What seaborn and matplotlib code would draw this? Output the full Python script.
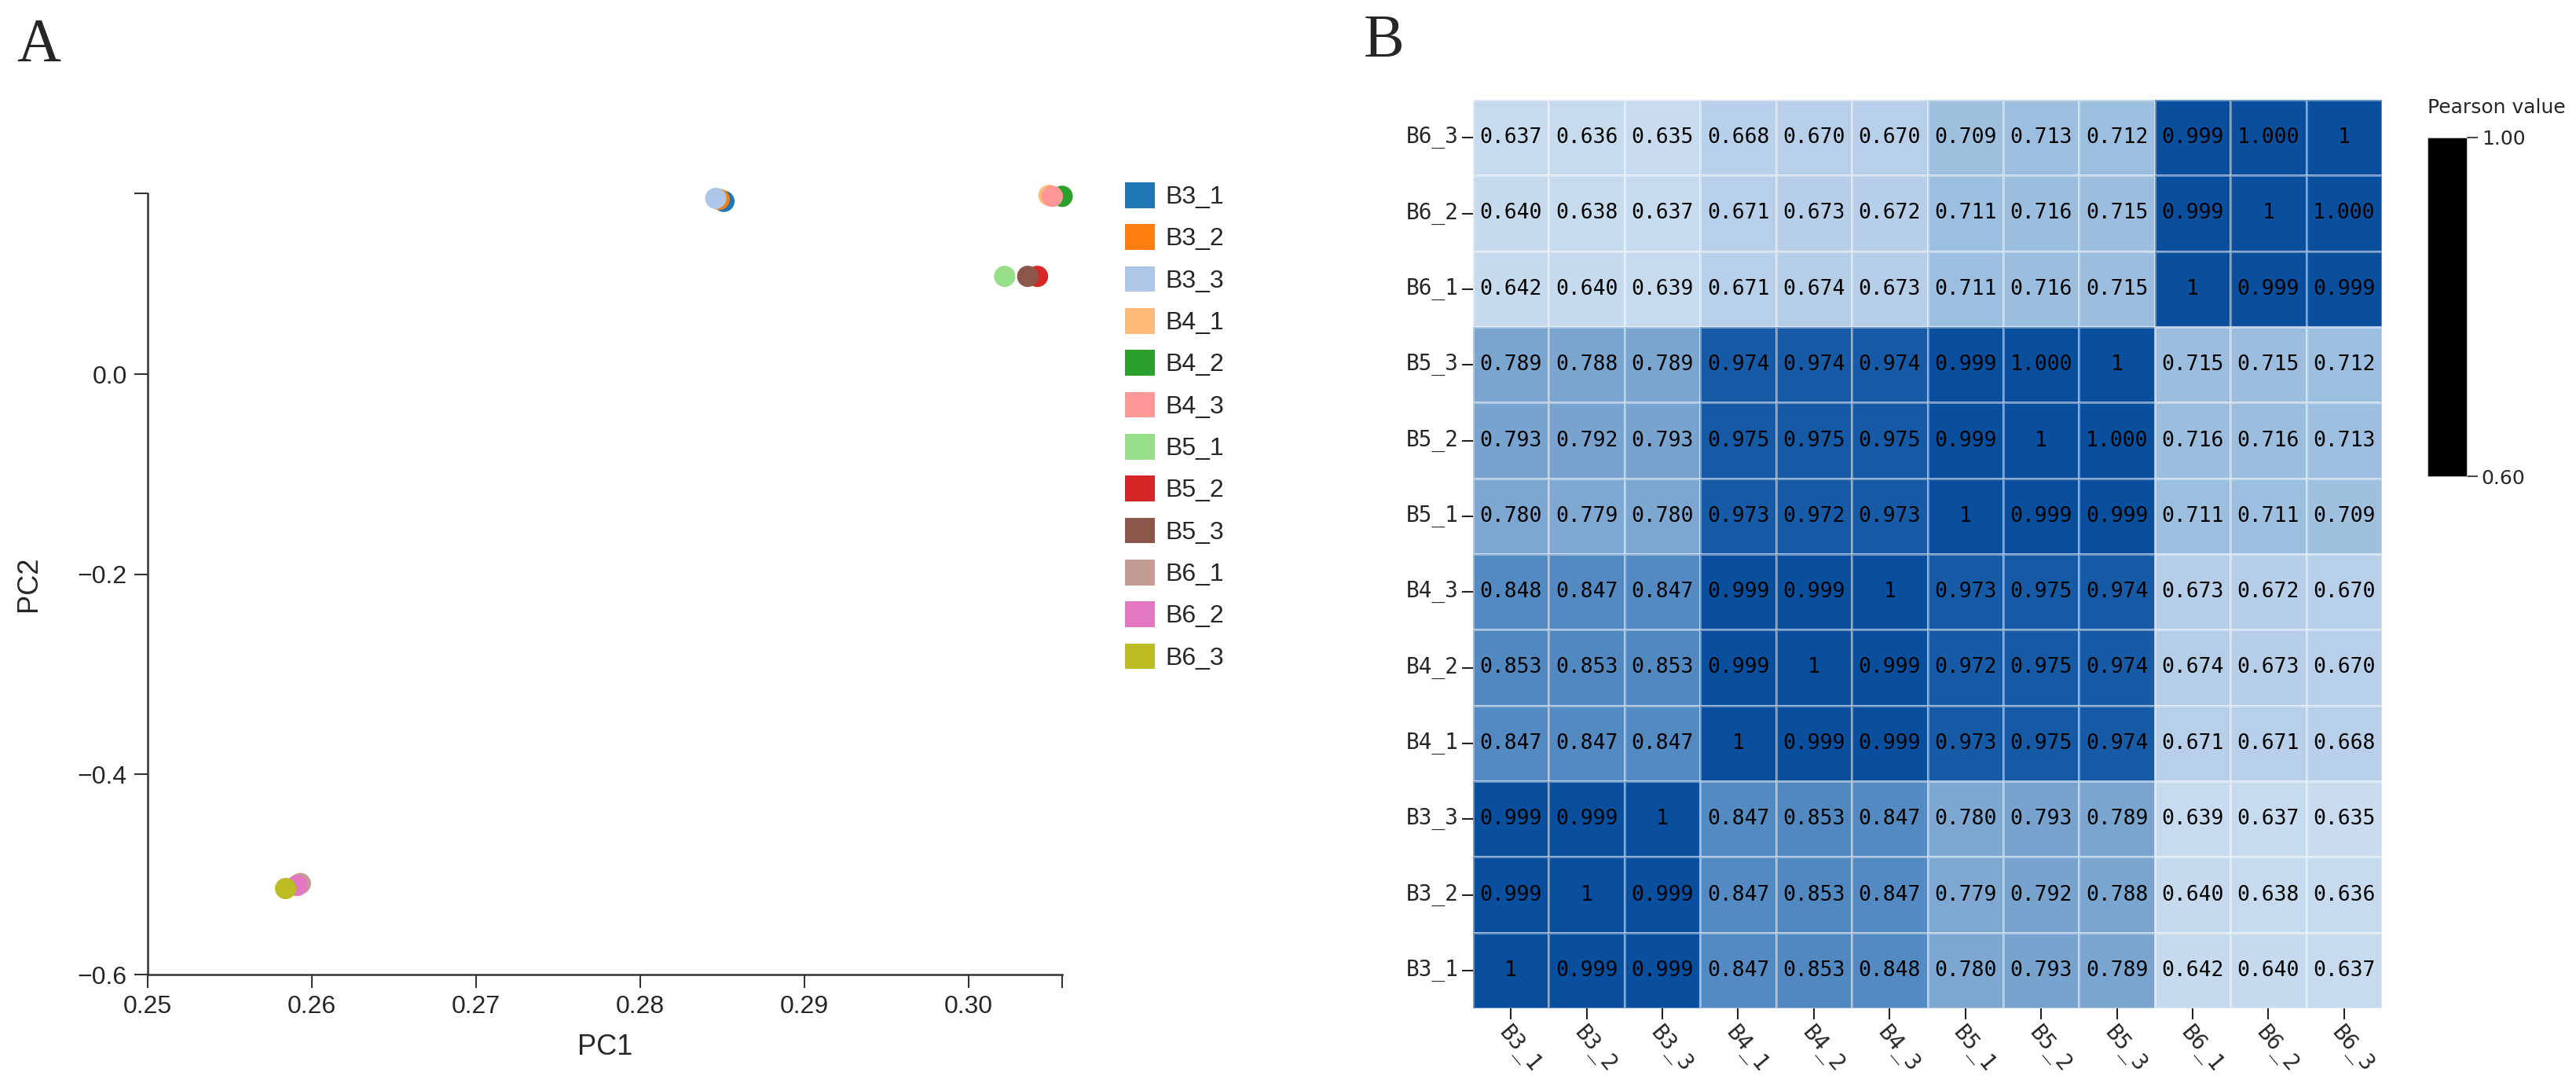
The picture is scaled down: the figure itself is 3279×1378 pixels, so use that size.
import numpy as np
import pandas as pd
import matplotlib
matplotlib.use("Agg")
import matplotlib.pyplot as plt
import seaborn as sns
from matplotlib.colors import LinearSegmentedColormap, ListedColormap, Normalize
from matplotlib.cm import ScalarMappable
from matplotlib.patches import Patch

sns.set_style("ticks")
plt.rcParams['font.family'] = ['Liberation Sans', 'DejaVu Sans']

# samples and PCA scores
samples = ["B3_1", "B3_2", "B3_3", "B4_1", "B4_2", "B4_3",
           "B5_1", "B5_2", "B5_3", "B6_1", "B6_2", "B6_3"]
pc1 = [0.2851, 0.2848, 0.2846, 0.3049, 0.3057, 0.3051,
       0.3022, 0.3042, 0.3036, 0.2593, 0.2591, 0.2584]
pc2 = [0.173, 0.175, 0.176, 0.179, 0.178, 0.178,
       0.098, 0.098, 0.098, -0.509, -0.511, -0.514]
sample_colors = ["#1f77b4", "#ff7f0e", "#aec7e8", "#ffbb78", "#2ca02c", "#ff9896",
                 "#98df8a", "#d62728", "#8c564b", "#c49c94", "#e377c2", "#bcbd22"]
x_ticks = [0.25, 0.26, 0.27, 0.28, 0.29, 0.30]
y_ticks = [-0.6, -0.4, -0.2, 0.0]

# Pearson matrix as printed in panel B, top row first
row_labels = ["B6_3", "B6_2", "B6_1", "B5_3", "B5_2", "B5_1",
              "B4_3", "B4_2", "B4_1", "B3_3", "B3_2", "B3_1"]
col_labels = samples
pearson_text = [
    ["0.637", "0.636", "0.635", "0.668", "0.670", "0.670", "0.709", "0.713", "0.712", "0.999", "1.000", "1"],
    ["0.640", "0.638", "0.637", "0.671", "0.673", "0.672", "0.711", "0.716", "0.715", "0.999", "1", "1.000"],
    ["0.642", "0.640", "0.639", "0.671", "0.674", "0.673", "0.711", "0.716", "0.715", "1", "0.999", "0.999"],
    ["0.789", "0.788", "0.789", "0.974", "0.974", "0.974", "0.999", "1.000", "1", "0.715", "0.715", "0.712"],
    ["0.793", "0.792", "0.793", "0.975", "0.975", "0.975", "0.999", "1", "1.000", "0.716", "0.716", "0.713"],
    ["0.780", "0.779", "0.780", "0.973", "0.972", "0.973", "1", "0.999", "0.999", "0.711", "0.711", "0.709"],
    ["0.848", "0.847", "0.847", "0.999", "0.999", "1", "0.973", "0.975", "0.974", "0.673", "0.672", "0.670"],
    ["0.853", "0.853", "0.853", "0.999", "1", "0.999", "0.972", "0.975", "0.974", "0.674", "0.673", "0.670"],
    ["0.847", "0.847", "0.847", "1", "0.999", "0.999", "0.973", "0.975", "0.974", "0.671", "0.671", "0.668"],
    ["0.999", "0.999", "1", "0.847", "0.853", "0.847", "0.780", "0.793", "0.789", "0.639", "0.637", "0.635"],
    ["0.999", "1", "0.999", "0.847", "0.853", "0.847", "0.779", "0.792", "0.788", "0.640", "0.638", "0.636"],
    ["1", "0.999", "0.999", "0.847", "0.853", "0.848", "0.780", "0.793", "0.789", "0.642", "0.640", "0.637"],
]
cbar_ticks = [0.60, 1.00]

pca_df = pd.DataFrame({"sample": samples, "PC1": pc1, "PC2": pc2})
annot = np.array(pearson_text)
corr_df = pd.DataFrame(annot.astype(float), index=row_labels, columns=col_labels)

fig = plt.figure(figsize=(32.79, 13.78), dpi=100)
W, H = 3279, 1378

# ---------- panel A: PCA ----------
ax = fig.add_axes([188 / W, 1 - 1240 / H, 1164 / W, 994 / H])
sns.scatterplot(data=pca_df, x="PC1", y="PC2", hue="sample", palette=sample_colors,
                s=380, linewidth=0, legend=False, ax=ax)
for c in ax.collections:
    c.set_clip_on(False)
ax.set_xlim(0.25, max(pc1))
ax.set_ylim(-0.6, max(pc2) + 0.002)
ax.set_xticks(x_ticks + [max(pc1)], [f"{v:.2f}" for v in x_ticks] + [""])
ax.set_yticks(y_ticks + [max(pc2) + 0.002],
              [f"{v:.1f}".replace("-", "\u2212") for v in y_ticks] + [""])
sns.despine(ax=ax)
for side in ["left", "bottom"]:
    ax.spines[side].set_color("#333333")
    ax.spines[side].set_linewidth(1.8)
ax.tick_params(length=12, width=1.5, color="#333333", labelsize=23, pad=7)
ax.set_xlabel("PC1", fontsize=26)
ax.set_ylabel("PC2", fontsize=26)
ax.xaxis.set_label_coords(0.5, -0.075)
ax.yaxis.set_label_coords(-0.115, 0.5)

handles = [Patch(facecolor=c, edgecolor="none", label=s) for s, c in zip(samples, sample_colors)]
fig.legend(handles=handles, loc="upper left", bbox_to_anchor=(1432 / W, 1 - 232 / H),
           frameon=False, fontsize=23, handlelength=1.2, handleheight=1.2,
           labelspacing=0.6, handletextpad=0.4, borderpad=0, borderaxespad=0)

fig.text(21 / W, 1 - 22 / H, "A", fontsize=56, family="Liberation Serif", va="top", ha="left")

# ---------- panel B: Pearson heatmap ----------
blues = LinearSegmentedColormap.from_list("pearson", [
    (0.0, "#d3e3f3"), (0.1, "#c6daee"), (0.175, "#b7cfe8"), (0.275, "#9ebfdf"),
    (0.475, "#79a4cf"), (0.625, "#5389c1"), (0.935, "#175aa5"), (1.0, "#0a4e9e")])
axh = fig.add_axes([1875 / W, 1 - 1283 / H, 1157 / W, 1156 / H])
sns.heatmap(corr_df, ax=axh, cmap=blues, vmin=0.6, vmax=1.0, cbar=False,
            annot=annot, fmt="", linewidths=2, linecolor=(1, 1, 1, 0.4),
            annot_kws={"fontsize": 19, "family": "DejaVu Sans Mono", "color": "black"})
axh.set_xlabel("")
axh.set_ylabel("")
axh.tick_params(axis="both", length=10, width=1.5, color="#222222", labelsize=20, pad=3)
for lab in axh.get_yticklabels():
    lab.set_family("DejaVu Sans Mono")
    lab.set_rotation(0)
for lab in axh.get_xticklabels():
    lab.set_family("DejaVu Sans Mono")
    lab.set_rotation(-50)
    lab.set_ha("left")
    lab.set_rotation_mode("anchor")

fig.text(1736 / W, 1 - 18 / H, "B", fontsize=56, family="Liberation Serif", va="top", ha="left")

# colour bar (drawn solid black as in the source figure)
cax = fig.add_axes([3090 / W, 1 - 606 / H, 50 / W, 431 / H])
cb = fig.colorbar(ScalarMappable(norm=Normalize(0.6, 1.0), cmap=ListedColormap(["black"])),
                  cax=cax, ticks=cbar_ticks, format="%.2f")
cb.outline.set_edgecolor("#bbbbbb")
cax.tick_params(labelsize=18, length=10, width=1.2)
for lab in cax.get_yticklabels():
    lab.set_family("DejaVu Sans")
fig.text(3090 / W, 1 - 137 / H, "Pearson value", fontsize=18, family="DejaVu Sans",
         va="center", ha="left")

fig.savefig("out.png", dpi=100)
